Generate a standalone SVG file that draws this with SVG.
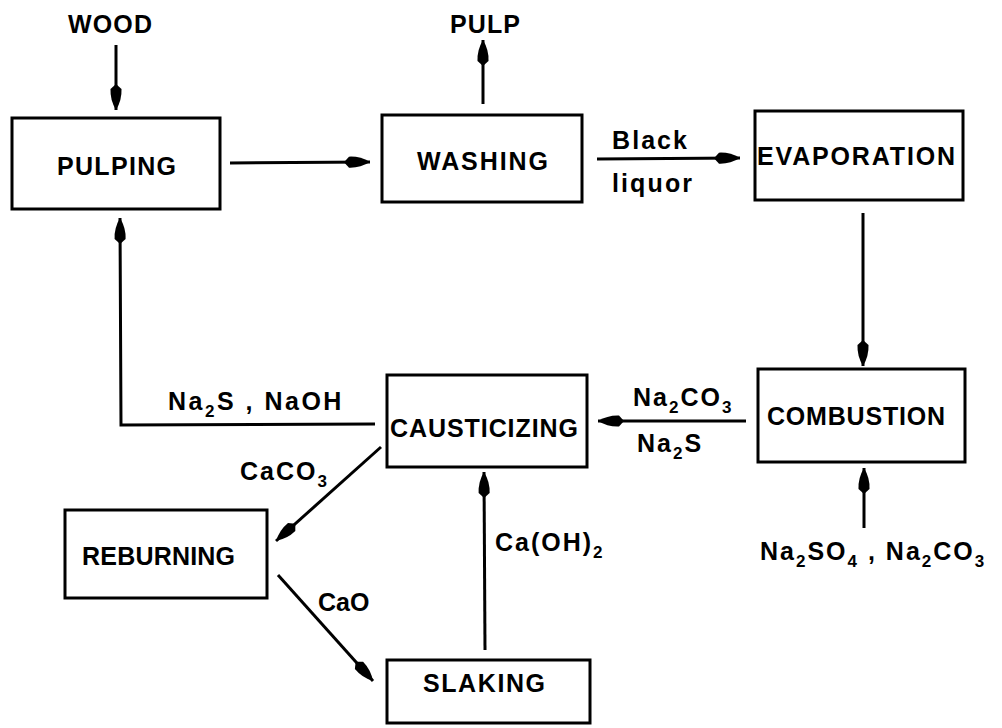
<svg xmlns="http://www.w3.org/2000/svg" width="1002" height="728" viewBox="0 0 1002 728">
<style>
.box{fill:#fff;stroke:#000;stroke-width:3}
.t{font-family:"Liberation Sans",Arial,sans-serif;font-weight:bold;font-size:25px;fill:#000}
.l{letter-spacing:2px}
.c{stroke:#000;stroke-width:3;fill:none}
.s{font-size:17px}
</style>
<defs>
<marker id="ah" markerUnits="userSpaceOnUse" markerWidth="32" markerHeight="16" refX="26" refY="8" orient="auto">
<path d="M0,8 L5,2.5 Q16,2 26,8 Q16,14 5,13.5 Z" fill="#000"/>
</marker>
</defs>
<rect width="1002" height="728" fill="#fff"/>
<g id="connectors">
<line class="c" x1="116" y1="45" x2="116" y2="110" marker-end="url(#ah)"/>
<line class="c" x1="483" y1="104" x2="483" y2="40" marker-end="url(#ah)"/>
<line class="c" x1="230" y1="163" x2="370" y2="162" marker-end="url(#ah)"/>
<line class="c" x1="597" y1="159" x2="740" y2="158" marker-end="url(#ah)"/>
<line class="c" x1="863" y1="213" x2="863" y2="366" marker-end="url(#ah)"/>
<line class="c" x1="746" y1="421" x2="598" y2="421" marker-end="url(#ah)"/>
<line class="c" x1="864" y1="528" x2="864" y2="468" marker-end="url(#ah)"/>
<polyline class="c" points="375,424 121,425 120,218" marker-end="url(#ah)"/>
<line class="c" x1="381" y1="447" x2="276" y2="541" marker-end="url(#ah)"/>
<line class="c" x1="278" y1="575" x2="373" y2="681" marker-end="url(#ah)"/>
<line class="c" x1="485" y1="650" x2="484" y2="472" marker-end="url(#ah)"/>
</g>
<g id="labels">
<text class="t" x="68" y="33" textLength="84" lengthAdjust="spacing">WOOD</text>
<text class="t" x="450" y="33" textLength="70" lengthAdjust="spacing">PULP</text>
<text class="t" x="612" y="149" textLength="75" lengthAdjust="spacing">Black</text>
<text class="t" x="612" y="192" textLength="80" lengthAdjust="spacing">liquor</text>
<text class="t l" x="633" y="406">Na<tspan class="s" dy="7">2</tspan><tspan dy="-7">CO</tspan><tspan class="s" dy="7">3</tspan></text>
<text class="t l" x="637" y="452">Na<tspan class="s" dy="7">2</tspan><tspan dy="-7">S</tspan></text>
<text class="t" x="168" y="410" style="letter-spacing:2.5px">Na<tspan class="s" dy="7">2</tspan><tspan dy="-7">S , NaOH</tspan></text>
<text class="t l" x="240" y="480">CaCO<tspan class="s" dy="7">3</tspan></text>
<text class="t" x="318" y="611">CaO</text>
<text class="t l" x="495" y="551">Ca(OH)<tspan class="s" dy="7">2</tspan></text>
<text class="t l" x="760" y="560">Na<tspan class="s" dy="7">2</tspan><tspan dy="-7">SO</tspan><tspan class="s" dy="7">4</tspan><tspan dy="-7"> , Na</tspan><tspan class="s" dy="7">2</tspan><tspan dy="-7">CO</tspan><tspan class="s" dy="7">3</tspan></text>
</g>
<g id="pulping"><rect class="box" x="12" y="118" width="208" height="91"/><text class="t" x="57" y="175" textLength="119" lengthAdjust="spacing">PULPING</text></g>
<g id="washing"><rect class="box" x="382" y="115" width="200" height="87"/><text class="t" x="417" y="170" textLength="131" lengthAdjust="spacing">WASHING</text></g>
<g id="evaporation"><rect class="box" x="755" y="111" width="208" height="89"/><text class="t" x="757" y="165" textLength="198" lengthAdjust="spacing">EVAPORATION</text></g>
<g id="combustion"><rect class="box" x="758" y="369" width="207" height="93"/><text class="t" x="767" y="425" textLength="178" lengthAdjust="spacing">COMBUSTION</text></g>
<g id="causticizing"><rect class="box" x="387" y="375" width="200" height="92"/><text class="t" x="390" y="437" textLength="188" lengthAdjust="spacing">CAUSTICIZING</text></g>
<g id="reburning"><rect class="box" x="65" y="510" width="202" height="88"/><text class="t" x="82" y="565" textLength="153" lengthAdjust="spacing">REBURNING</text></g>
<g id="slaking"><rect class="box" x="387" y="660" width="203" height="63"/><text class="t" x="423" y="692" textLength="122" lengthAdjust="spacing">SLAKING</text></g>
</svg>
